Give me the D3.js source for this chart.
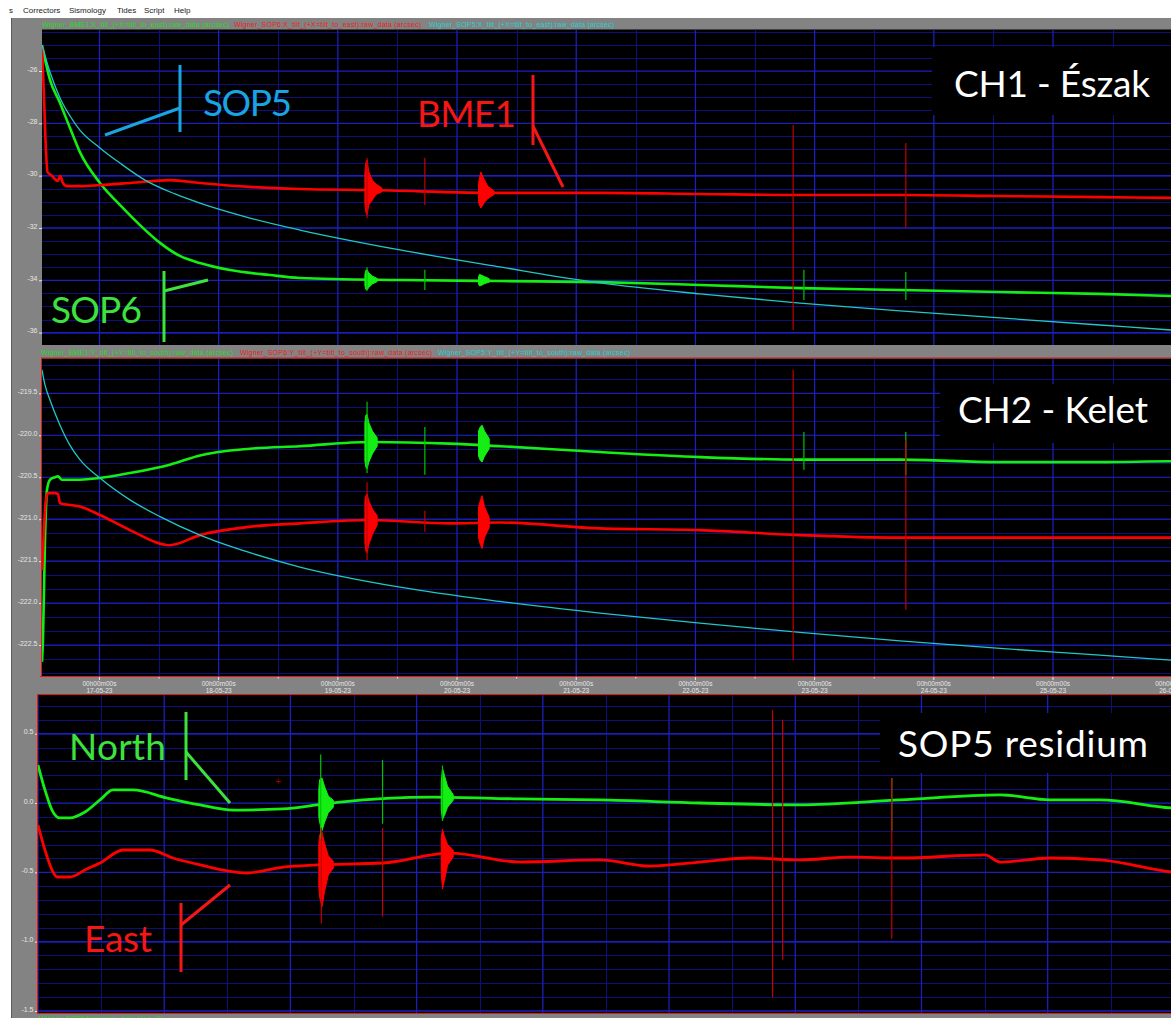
<!DOCTYPE html>
<html>
<head>
<meta charset="utf-8">
<style>
  html, body { margin: 0; padding: 0; background: #fff; }
  svg { display: block; font-family: "Liberation Sans", Arial, sans-serif; }
</style>
</head>
<body>
<svg width="1171" height="1018"></svg>
<script src="https://d3js.org/d3.v7.min.js"></script>
<script>

// ---- data (time = day of May 2023, value = arcsec) ----

// CH1 (X tilt)
var ch1Green = [[16.518,-25.01],[16.585,-26.34],[16.669,-27.22],[16.753,-28.18],[16.836,-29.10],[17.004,-30.28],
  [17.172,-31.12],[17.340,-31.89],[17.508,-32.57],[17.675,-33.07],[17.843,-33.34],[18.095,-33.61],[18.431,-33.80],
  [18.682,-33.91],[19.521,-33.99],[20.360,-34.03],[21.199,-34.07],[22.038,-34.18],[22.877,-34.30],[23.716,-34.37],
  [24.555,-34.45],[25.394,-34.52],[25.990,-34.60],[26.233,-34.64]];
var ch1Red = [[16.518,-25.08],[16.534,-26.92],[16.551,-29.02],[16.564,-29.86],[16.602,-30.01],[16.635,-30.17],
  [16.652,-30.20],[16.669,-30.01],[16.694,-30.28],[16.727,-30.40],[16.836,-30.40],[17.004,-30.36],[17.256,-30.28],
  [17.591,-30.17],[17.843,-30.28],[18.263,-30.43],[18.682,-30.51],[19.269,-30.55],[20.360,-30.66],[21.199,-30.66],
  [22.038,-30.70],[22.877,-30.74],[23.716,-30.74],[24.555,-30.78],[25.394,-30.82],[25.990,-30.85],[26.233,-30.86]];
var ch1Cyan = [[16.518,-25.01],[16.585,-26.04],[16.669,-27.03],[16.753,-27.72],[16.836,-28.26],[17.004,-28.94],
  [17.172,-29.52],[17.382,-30.17],[17.634,-30.70],[17.843,-31.05],[18.263,-31.62],[18.682,-32.08],[19.521,-32.84],
  [20.360,-33.49],[21.199,-34.10],[22.038,-34.52],[22.877,-34.87],[23.716,-35.17],[24.555,-35.44],[25.394,-35.71],
  [25.990,-35.90],[26.233,-35.98]];
// quake bursts: [day, high, low]
var ch1GreenBursts = [
  [[19.227,-33.78,-34.20],[19.235,-33.62,-34.35],[19.245,-33.60,-34.37],[19.26,-33.72,-34.27],[19.29,-33.84,-34.14],[19.33,-33.93,-34.05]],
  [[20.18,-33.86,-34.14],[20.19,-33.77,-34.22],[20.20,-33.80,-34.20],[20.23,-33.86,-34.13],[20.27,-33.94,-34.07]]];
var ch1RedBursts = [
  [[19.227,-29.90,-31.05],[19.235,-29.50,-31.40],[19.245,-29.40,-31.50],[19.26,-29.86,-31.12],[19.29,-30.17,-30.93],[19.32,-30.32,-30.72],[19.37,-30.47,-30.62]],
  [[20.18,-30.30,-31.00],[20.19,-30.05,-31.15],[20.20,-29.86,-31.24],[20.23,-30.17,-31.02],[20.26,-30.42,-30.87],[20.31,-30.58,-30.72]]];
// single spikes: [day, high, low]
var ch1GreenSpikes = [[19.245,-33.50,-34.40],[19.73,-33.60,-34.37],[22.91,-33.60,-34.75],[23.765,-33.68,-34.75]];
var ch1RedSpikes = [[19.245,-29.33,-31.62],[19.73,-29.32,-31.12],[22.82,-28.06,-35.90],[23.765,-28.75,-32.00]];

// CH2 (Y tilt)
var ch2Green = [[16.518,-222.70],[16.526,-222.44],[16.543,-221.25],[16.560,-220.65],[16.585,-220.53],[16.627,-220.50],
  [16.652,-220.49],[16.685,-220.53],[16.836,-220.53],[17.004,-220.51],[17.256,-220.45],[17.591,-220.35],[17.843,-220.24],
  [18.263,-220.16],[18.682,-220.13],[19.269,-220.08],[19.940,-220.10],[20.360,-220.13],[21.199,-220.20],[22.038,-220.26],
  [22.877,-220.29],[23.716,-220.29],[24.555,-220.32],[25.394,-220.32],[25.990,-220.31],[26.233,-220.31]];
var ch2Red = [[16.518,-221.61],[16.534,-221.13],[16.551,-220.77],[16.568,-220.69],[16.627,-220.69],[16.652,-220.70],
  [16.669,-220.81],[16.836,-220.85],[17.004,-220.95],[17.256,-221.13],[17.591,-221.31],[17.843,-221.19],[18.263,-221.09],
  [18.682,-221.05],[19.269,-221.01],[19.940,-221.05],[20.360,-221.04],[21.199,-221.11],[22.038,-221.13],[22.877,-221.19],
  [23.716,-221.22],[24.555,-221.22],[25.394,-221.22],[25.990,-221.22],[26.233,-221.22]];
var ch2Cyan = [[16.518,-219.22],[16.543,-219.40],[16.585,-219.58],[16.669,-219.88],[16.753,-220.12],[16.836,-220.29],
  [17.004,-220.51],[17.256,-220.77],[17.508,-220.97],[17.843,-221.19],[18.263,-221.40],[18.682,-221.57],[19.521,-221.81],
  [20.360,-221.98],[21.199,-222.12],[22.038,-222.24],[22.877,-222.35],[23.716,-222.45],[24.555,-222.54],[25.394,-222.62],
  [25.990,-222.68],[26.233,-222.70]];
var ch2GreenBursts = [
  [[19.227,-219.85,-220.30],[19.235,-219.76,-220.38],[19.245,-219.75,-220.40],[19.26,-219.85,-220.32],[19.29,-219.95,-220.22],[19.33,-220.03,-220.13]],
  [[20.18,-219.95,-220.25],[20.195,-219.90,-220.30],[20.21,-219.88,-220.32],[20.23,-219.95,-220.25],[20.27,-220.04,-220.16]]];
var ch2RedBursts = [
  [[19.227,-220.78,-221.28],[19.235,-220.72,-221.38],[19.245,-220.70,-221.40],[19.26,-220.78,-221.30],[19.29,-220.88,-221.18],[19.33,-220.96,-221.07]],
  [[20.18,-220.85,-221.22],[20.195,-220.78,-221.30],[20.21,-220.72,-221.35],[20.23,-220.85,-221.22],[20.27,-220.98,-221.10]]];
var ch2GreenSpikes = [[19.245,-219.60,-220.45],[19.73,-219.90,-220.47],[22.91,-219.96,-220.41],[23.765,-219.96,-220.47]];
var ch2RedSpikes = [[19.245,-220.56,-221.49],[19.73,-220.90,-221.15],[22.82,-219.22,-222.68],[23.765,-220.06,-222.08]];

// SOP5 residium
var resNorth = [[17.000,0.274],[17.055,0.094],[17.111,-0.051],[17.174,-0.108],[17.254,-0.108],[17.372,-0.065],
  [17.491,0.022],[17.594,0.094],[17.753,0.094],[18.022,0.036],[18.284,-0.014],[18.545,-0.051],[18.941,-0.043],
  [19.211,-0.014],[19.393,0.007],[20.130,0.043],[20.819,0.029],[21.453,0.022],[22.246,0.000],[23.038,-0.014],
  [23.830,0.022],[24.623,0.058],[25.019,0.022],[25.415,0.022],[25.978,-0.036],[26.207,-0.045]];
var resEast = [[17.000,-0.159],[17.055,-0.339],[17.111,-0.483],[17.151,-0.534],[17.254,-0.534],[17.372,-0.483],
  [17.491,-0.433],[17.674,-0.339],[17.887,-0.339],[18.070,-0.397],[18.284,-0.447],[18.656,-0.505],[18.941,-0.462],
  [19.211,-0.447],[19.734,-0.433],[20.265,-0.361],[20.819,-0.426],[21.453,-0.411],[21.849,-0.455],[22.246,-0.426],
  [22.642,-0.397],[23.038,-0.411],[23.434,-0.390],[23.830,-0.397],[24.504,-0.375],[24.623,-0.426],[25.019,-0.397],
  [25.415,-0.411],[25.978,-0.498],[26.207,-0.520]];
var resNorthBursts = [
  [[19.225,0.10,-0.10],[19.232,0.17,-0.14],[19.25,0.18,-0.20],[19.27,0.12,-0.14],[19.30,0.05,-0.07],[19.34,0.02,-0.03]],
  [[20.195,0.15,-0.05],[20.205,0.25,-0.12],[20.22,0.20,-0.09],[20.245,0.12,-0.03],[20.29,0.06,0.02]]];
var resEastBursts = [
  [[19.225,-0.30,-0.60],[19.232,-0.23,-0.68],[19.25,-0.21,-0.75],[19.27,-0.29,-0.64],[19.30,-0.38,-0.52],[19.34,-0.42,-0.47]],
  [[20.195,-0.25,-0.50],[20.205,-0.19,-0.62],[20.22,-0.24,-0.56],[20.245,-0.30,-0.45],[20.29,-0.34,-0.39]]];
var resNorthSpikes = [[19.24,0.35,-0.26],[19.73,0.31,-0.15],[20.205,0.27,-0.13],[23.765,0.18,-0.20]];
var resEastSpikes = [[19.245,-0.18,-0.87],[19.73,-0.18,-0.82],[22.82,0.67,-1.40],[22.90,0.60,-1.13],[23.765,0.18,-0.98]];
var cursorMark = [18.902, 0.154];

// ticks
var ch1Ticks = [-26, -28, -30, -32, -34, -36];
var ch2Ticks = [-219.5, -220.0, -220.5, -221.0, -221.5, -222.0, -222.5];
var resTicks = [0.5, 0.0, -0.5, -1.0, -1.5];
var xTickDays = [17, 18, 19, 20, 21, 22, 23, 24, 25, 26];

var menuItems = ["s", "Correctors", "Sismology", "Tides", "Script", "Help"];
var ch1Legend = ["Wigner_BME1:X_tilt_(+X=tilt_to_east):raw_data (arcsec)",
                 "Wigner_SOP6:X_tilt_(+X=tilt_to_east):raw_data (arcsec)",
                 "Wigner_SOP5:X_tilt_(+X=tilt_to_east):raw_data (arcsec)"];
var ch2Legend = ["Wigner_BME1:Y_tilt_(+Y=tilt_to_south):raw_data (arcsec)",
                 "Wigner_SOP6:Y_tilt_(+Y=tilt_to_south):raw_data (arcsec)",
                 "Wigner_SOP5:Y_tilt_(+Y=tilt_to_south):raw_data (arcsec)"];

// ---- drawing ----

var svg = d3.select("svg"),
    W = +svg.attr("width"),
    H = +svg.attr("height");

var col = { red: "#ff0000", green: "#14ee14", cyan: "#22c6c6", redSpike: "#c40000", greenSpike: "#00c400",
            grid: "#0e0e7c", gridMajor: "#1a20b8", gray: "#838383", frame: "#e21818" };

function day(d) { return new Date(Date.UTC(2023, 4, 1) + (d - 1) * 864e5); }

var x12 = d3.scaleUtc().domain([day(16.518), day(26.233)]).range([42, 1200]);
var x3 = d3.scaleUtc().domain([day(17), day(26.207)]).range([38, 1200]);

svg.append("rect").attr("width", W).attr("height", H).attr("fill", "#fff");
svg.append("rect").attr("x", 12).attr("y", 18).attr("width", W - 12).attr("height", H - 18).attr("fill", col.gray);
svg.append("line").attr("x1", 11.5).attr("x2", 11.5).attr("y1", 18).attr("y2", H).attr("stroke", "#5c5c5c");

// menu
var menuX = [9, 23, 69, 117, 144, 174];
svg.selectAll(".menu").data(menuItems).enter().append("text")
    .attr("x", function(d, i) { return menuX[i]; })
    .attr("y", 12.5)
    .attr("font-size", "8px")
    .attr("fill", "#222")
    .text(function(d) { return d; });

var panels = [
  { name: "p1", left: 42, top: 29.5, bottom: 345, x: x12,
    y: d3.scaleLinear().domain([-36.474, -24.414]).range([345, 29.5]),
    ticks: ch1Ticks, minor: 0.5, fmt: function(d) { return d.toFixed(0); }, frame: false,
    series: [[ch1Green, col.green, 2.6], [ch1Red, col.red, 2.6], [ch1Cyan, col.cyan, 1.3]],
    bursts: [[ch1GreenBursts, col.green], [ch1RedBursts, col.red]],
    spikes: [[ch1GreenSpikes, col.greenSpike], [ch1RedSpikes, col.redSpike]],
    box: [932, 47, 260, 68] },
  { name: "p2", left: 42, top: 358.5, bottom: 676, x: x12,
    y: d3.scaleLinear().domain([-222.869, -219.085]).range([676, 358.5]),
    ticks: ch2Ticks, minor: 0.5 / 3, fmt: function(d) { return d.toFixed(1); }, frame: true,
    series: [[ch2Green, col.green, 2.6], [ch2Red, col.red, 2.6], [ch2Cyan, col.cyan, 1.3]],
    bursts: [[ch2GreenBursts, col.green], [ch2RedBursts, col.red]],
    spikes: [[ch2GreenSpikes, col.greenSpike], [ch2RedSpikes, col.redSpike]],
    box: [940, 384, 260, 59] },
  { name: "p3", left: 38, top: 695, bottom: 1013, x: x3,
    y: d3.scaleLinear().domain([-1.515, 0.779]).range([1013, 695]),
    ticks: resTicks, minor: 0.1, fmt: function(d) { return d.toFixed(1); }, frame: true,
    series: [[resNorth, col.green, 2.8], [resEast, col.red, 2.8]],
    bursts: [[resNorthBursts, col.green], [resEastBursts, col.red]],
    spikes: [[resNorthSpikes, col.greenSpike], [resEastSpikes, col.redSpike]],
    box: [880, 713, 300, 60] }
];

panels.forEach(function(p) {
  var x = p.x, y = p.y;
  svg.append("clipPath").attr("id", "clip-" + p.name)
    .append("rect").attr("x", p.left).attr("y", p.top)
    .attr("width", 1200 - p.left).attr("height", p.bottom - p.top);

  var g = svg.append("g");
  g.append("rect").attr("x", p.left).attr("y", p.top)
    .attr("width", 1200 - p.left).attr("height", p.bottom - p.top).attr("fill", "#000");

  var inner = g.append("g").attr("clip-path", "url(#clip-" + p.name + ")");

  // grid
  var dom = x.domain();
  var halfDays = d3.utcHour.every(12).range(dom[0], dom[1]).filter(function(d) { return d.getUTCHours() === 12; });
  var days = d3.utcDay.range(dom[0], dom[1]);
  var yd = y.domain();
  var minorY = d3.range(Math.ceil(yd[0] / p.minor - 1e-6), Math.floor(yd[1] / p.minor + 1e-6) + 1)
      .map(function(k) { return k * p.minor; });

  inner.selectAll(".hminor").data(minorY).enter().append("line")
    .attr("x1", p.left).attr("x2", 1200)
    .attr("y1", function(d) { return Math.round(y(d)) + 0.5; })
    .attr("y2", function(d) { return Math.round(y(d)) + 0.5; })
    .attr("stroke", col.grid).attr("stroke-width", 1);
  inner.selectAll(".vminor").data(halfDays).enter().append("line")
    .attr("x1", function(d) { return Math.round(x(d)) + 0.5; })
    .attr("x2", function(d) { return Math.round(x(d)) + 0.5; })
    .attr("y1", p.top).attr("y2", p.bottom)
    .attr("stroke", col.grid).attr("stroke-width", 1);
  inner.selectAll(".hmajor").data(p.ticks).enter().append("line")
    .attr("x1", p.left).attr("x2", 1200)
    .attr("y1", function(d) { return y(d); }).attr("y2", function(d) { return y(d); })
    .attr("stroke", col.gridMajor).attr("stroke-width", 1.2);
  inner.selectAll(".vmajor").data(days).enter().append("line")
    .attr("x1", function(d) { return x(d); }).attr("x2", function(d) { return x(d); })
    .attr("y1", p.top).attr("y2", p.bottom)
    .attr("stroke", col.gridMajor).attr("stroke-width", 1.3);

  // black title box hides the grid
  inner.append("rect").attr("x", p.box[0]).attr("y", p.box[1])
    .attr("width", p.box[2]).attr("height", p.box[3]).attr("fill", "#000");

  // bursts
  var area = d3.area()
    .x(function(d) { return x(day(d[0])); })
    .y0(function(d) { return y(d[2]); })
    .y1(function(d) { return y(d[1]); });
  p.bursts.forEach(function(b) {
    inner.selectAll(null).data(b[0]).enter().append("path")
      .attr("d", area).attr("fill", b[1]).attr("stroke", b[1]).attr("stroke-width", 1);
  });

  // lines
  var line = d3.line()
    .x(function(d) { return x(day(d[0])); })
    .y(function(d) { return y(d[1]); })
    .curve(d3.curveMonotoneX);
  p.series.forEach(function(s) {
    inner.append("path").datum(s[0])
      .attr("d", line).attr("fill", "none")
      .attr("stroke", s[1]).attr("stroke-width", s[2]).attr("stroke-linejoin", "round");
  });

  // spikes
  p.spikes.forEach(function(s) {
    inner.selectAll(null).data(s[0]).enter().append("line")
      .attr("x1", function(d) { return x(day(d[0])); }).attr("x2", function(d) { return x(day(d[0])); })
      .attr("y1", function(d) { return y(d[1]); }).attr("y2", function(d) { return y(d[2]); })
      .attr("stroke", s[1]).attr("stroke-width", 1.2);
  });

  // y axis labels
  var ax = svg.append("g").attr("transform", "translate(" + p.left + ",0)")
    .call(d3.axisLeft(y).tickValues(p.ticks).tickSize(3).tickPadding(1.5).tickFormat(p.fmt));
  ax.select(".domain").remove();
  ax.selectAll(".tick line").attr("stroke", "#e6e6e6");
  ax.selectAll(".tick text").attr("fill", "#e6e6e6").attr("font-size", "7px")
    .attr("font-family", "Liberation Sans, Arial, sans-serif").attr("y", -2);

  if (p.frame) {
    svg.append("rect").attr("x", p.left - 0.5).attr("y", p.top - 0.5)
      .attr("width", 1210 - p.left).attr("height", p.bottom - p.top + 1)
      .attr("fill", "none").attr("stroke", col.frame).attr("stroke-width", 1);
  }
});

// cursor cross in residium panel
var cm = panels[2];
svg.append("text").attr("x", x3(day(cursorMark[0]))).attr("y", cm.y(cursorMark[1]))
  .attr("dy", "0.35em").attr("text-anchor", "middle").attr("font-size", "10px")
  .attr("fill", "#a00000").text("+");

// legends
function legend(items, y, xs, lens) {
  var cols = ["#22dd22", "#ee2020", "#22d2d2"];
  svg.selectAll(null).data(items).enter().append("text")
    .attr("x", function(d, i) { return xs[i]; })
    .attr("y", y)
    .attr("font-size", "7px")
    .attr("fill", function(d, i) { return cols[i]; })
    .attr("textLength", function(d, i) { return lens[i]; })
    .text(function(d) { return d; });
}
legend(ch1Legend, 26.5, [42, 234, 429], [187, 187, 185]);
legend(ch2Legend, 354.5, [41, 240, 438], [192, 192, 192]);
svg.append("text").attr("x", 39).attr("y", 1021).attr("font-size", "7px").attr("fill", "#22dd22")
  .attr("textLength", 124).text("Wigner_SOP5:temp:raw_data (deg_C)");

// time axis strip
var strip = svg.append("g");
strip.append("line").attr("x1", 40).attr("x2", W).attr("y1", 676.5).attr("y2", 676.5).attr("stroke", col.frame);
strip.append("line").attr("x1", 37).attr("x2", W).attr("y1", 694.5).attr("y2", 694.5).attr("stroke", col.frame);
var xd = x12.domain();
strip.selectAll(".mt").data(d3.utcHour.every(12).range(xd[0], xd[1])).enter().append("line")
  .attr("x1", function(d) { return x12(d); }).attr("x2", function(d) { return x12(d); })
  .attr("y1", 677).attr("y2", function(d) { return d.getUTCHours() === 0 ? 680 : 678.5; })
  .attr("stroke", "#e6e6e6");
var fmtDay = d3.utcFormat("%d-%m-%y");
var xl = strip.selectAll(".xl").data(xTickDays).enter().append("text")
  .attr("text-anchor", "middle")
  .attr("font-size", "6.5px")
  .attr("fill", "#e6e6e6");
xl.append("tspan").attr("x", function(d) { return x12(day(d)); }).attr("y", 686).text("00h00m00s");
xl.append("tspan").attr("x", function(d) { return x12(day(d)); }).attr("y", 692.5)
  .text(function(d) { return fmtDay(day(d)); });

// annotation overlay
var ann = { cyan: "#1aa4e2", red: "#f51616", green: "#3ee23e" };
var calloutLines = [
  [ann.cyan, 180, 65, 180, 132], [ann.cyan, 180, 108, 105, 135],
  [ann.red, 533, 75, 533, 145], [ann.red, 533, 126, 563, 187],
  [ann.green, 164, 271, 164, 342], [ann.green, 164, 291, 208, 280],
  [ann.green, 186, 712, 186, 780], [ann.green, 186, 752, 230, 803],
  [ann.red, 181, 903, 181, 972], [ann.red, 181, 925, 230, 885]
];
svg.selectAll(".co").data(calloutLines).enter().append("line")
  .attr("x1", function(d) { return d[1]; }).attr("y1", function(d) { return d[2]; })
  .attr("x2", function(d) { return d[3]; }).attr("y2", function(d) { return d[4]; })
  .attr("stroke", function(d) { return d[0]; }).attr("stroke-width", 3);

var annTexts = [
  ["CH1 - Észak", 954, 97, "#fff", 196],
  ["CH2 - Kelet", 958, 423, "#fff", 190],
  ["SOP5 residium", 898, 757, "#fff", 250],
  ["SOP5", 203, 116, ann.cyan, 89],
  ["BME1", 417, 127, ann.red, 99],
  ["SOP6", 51, 323, ann.green, 91],
  ["North", 69, 760, ann.green, 97],
  ["East", 84, 952, ann.red, 68]
];
svg.selectAll(".at").data(annTexts).enter().append("text")
  .attr("x", function(d) { return d[1]; })
  .attr("y", function(d) { return d[2]; })
  .attr("fill", function(d) { return d[3]; })
  .attr("textLength", function(d) { return d[4]; })
  .attr("font-family", "Lato, 'Open Sans', sans-serif")
  .attr("font-size", "37px")
  .text(function(d) { return d[0]; });

</script>
</body>
</html>
